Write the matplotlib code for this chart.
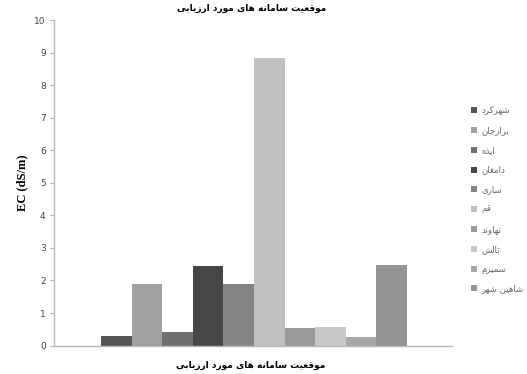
import matplotlib.pyplot as plt
import numpy as np

# values (EC, dS/m)
sites = ['شهرکرد', 'برازجان', 'ایذه', 'دامغان', 'ساری', 'قم', 'نهاوند', 'تالش', 'سمیرم', 'شاهین شهر']
ec = [0.30, 1.88, 0.42, 2.43, 1.88, 8.83, 0.53, 0.58, 0.27, 2.48]
colors = ['#555555', '#a0a0a0', '#707070', '#464646', '#848484',
          '#c0c0c0', '#9a9a9a', '#c8c8c8', '#a8a8a8', '#959595']
title = 'موقعیت سامانه های مورد ارزیابی'
y_ticks = list(range(0, 11))

# matplotlib has no arabic shaping, so pick presentation forms by hand
# letter: (isolated, final, initial, medial); two-form letters do not join forward
FORMS = {
    'ا': (0xFE8D, 0xFE8E), 'د': (0xFEA9, 0xFEAA), 'ذ': (0xFEAB, 0xFEAC),
    'ر': (0xFEAD, 0xFEAE), 'ز': (0xFEAF, 0xFEB0), 'و': (0xFEED, 0xFEEE),
    'ب': (0xFE8F, 0xFE90, 0xFE91, 0xFE92), 'ت': (0xFE95, 0xFE96, 0xFE97, 0xFE98),
    'ج': (0xFE9D, 0xFE9E, 0xFE9F, 0xFEA0), 'س': (0xFEB1, 0xFEB2, 0xFEB3, 0xFEB4),
    'ش': (0xFEB5, 0xFEB6, 0xFEB7, 0xFEB8), 'ع': (0xFEC9, 0xFECA, 0xFECB, 0xFECC),
    'غ': (0xFECD, 0xFECE, 0xFECF, 0xFED0), 'ق': (0xFED5, 0xFED6, 0xFED7, 0xFED8),
    'ل': (0xFEDD, 0xFEDE, 0xFEDF, 0xFEE0), 'م': (0xFEE1, 0xFEE2, 0xFEE3, 0xFEE4),
    'ن': (0xFEE5, 0xFEE6, 0xFEE7, 0xFEE8), 'ه': (0xFEE9, 0xFEEA, 0xFEEB, 0xFEEC),
    'ی': (0xFBFC, 0xFBFD, 0xFBFE, 0xFBFF), 'ک': (0xFB8E, 0xFB8F, 0xFB90, 0xFB91),
    'گ': (0xFB92, 0xFB93, 0xFB94, 0xFB95),
}


def fa(s):
    out = []
    for i, ch in enumerate(s):
        f = FORMS.get(ch)
        if f is None:
            out.append(ch)
            continue
        prev = s[i - 1] if i > 0 else ''
        nxt = s[i + 1] if i + 1 < len(s) else ''
        join_prev = prev in FORMS and len(FORMS[prev]) == 4
        join_next = len(f) == 4 and nxt in FORMS
        if join_prev and join_next:
            code = f[3]
        elif join_prev:
            code = f[1]
        elif join_next:
            code = f[2]
        else:
            code = f[0]
        out.append(chr(code))
    return ''.join(out)[::-1]


fig = plt.figure(figsize=(5.27, 3.74), dpi=100)
ax = fig.add_axes([0.1025, 0.076, 0.755, 0.8705])

x = np.arange(len(sites))
for i in range(len(sites)):
    ax.bar(x[i], ec[i], width=1.0, color=colors[i], label=fa(sites[i]))

ax.set_xlim(-2.04, 10.97)
ax.set_ylim(0, 10)
ax.set_yticks(y_ticks)
ax.set_xticks([])
ax.tick_params(axis='y', labelsize=6.5, labelcolor='#444444', color='#b0b0b0',
               length=3, width=0.8, direction='out', pad=3)
for side in ['top', 'right']:
    ax.spines[side].set_visible(False)
for side in ['left', 'bottom']:
    ax.spines[side].set_color('#b8b8b8')
    ax.spines[side].set_linewidth(1.0)

ax.set_ylabel('EC (dS/m)', fontsize=9, fontweight='bold', family='Liberation Serif', labelpad=4)
fig.text(0.478, 0.978, fa(title), ha='center', va='center', fontsize=6.5, fontweight='bold')
fig.text(0.475, 0.022, fa(title), ha='center', va='center', fontsize=6.5, fontweight='bold')

leg = fig.legend(loc='upper left', bbox_to_anchor=(0.887, 0.725), frameon=False,
                 fontsize=6.2, handlelength=0.7, handleheight=0.7, handletextpad=0.5,
                 labelspacing=1.25, borderaxespad=0)
for t in leg.get_texts():
    t.set_color('#666666')

fig.savefig('out.png', dpi=100)
